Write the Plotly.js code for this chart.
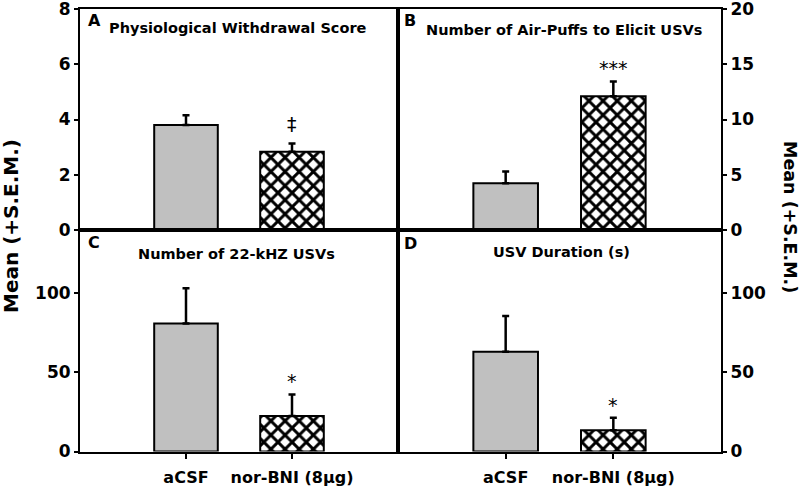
<!DOCTYPE html>
<html>
<head>
<meta charset="utf-8">
<script src="https://cdn.plot.ly/plotly-3.0.1.min.js"></script>
<style>html,body{margin:0;padding:0;background:#fff}#chart{width:800px;height:488px}</style>
</head>
<body>
<div id="chart"></div>
<script>
// ---- data ----
const groups = ['aCSF', 'nor-BNI (8µg)'];
const panelLetters = ['A', 'B', 'C', 'D'];
const panelTitles = ['Physiological Withdrawal Score', 'Number of Air-Puffs to Elicit USVs', 'Number of 22-kHZ USVs', 'USV Duration (s)'];
const meanA = [3.80, 2.83];
const semA  = [0.35, 0.30];
const meanB = [4.22, 12.1];
const semB  = [1.08, 1.35];
const meanC = [80.9, 22.5];
const semC  = [22.3, 13.6];
const meanD = [63.1, 13.5];
const semD  = [22.6, 7.9];
const sigLabels = ['‡', '***', '*', '*'];
const yTicksA = [0, 2, 4, 6, 8];
const yTicksB = [0, 5, 10, 15, 20];
const yTicksCD = [0, 50, 100];
const yTitle = 'Mean (+S.E.M.)';

// ---- style ----
const FONT = 'DejaVu Sans, Liberation Sans, Arial, sans-serif';
const W = 800, H = 488;
const px = v => v / W;
const py = v => 1 - v / H;
const sigShift = [7, 0, 0, 0];

const means = [meanA, meanB, meanC, meanD];
const sems = [semA, semB, semC, semD];
const axSuffix = ['', '2', '3', '4'];

const traces = [];
means.forEach((m, i) => {
  // control group (grey)
  traces.push({
    type: 'bar', x: [groups[0]], y: [m[0]],
    xaxis: 'x' + axSuffix[i], yaxis: 'y' + axSuffix[i], width: 0.6,
    marker: {color: '#c0c0c0', line: {color: '#000', width: 2}},
    error_y: {type: 'data', symmetric: false, array: [sems[i][0]], arrayminus: [0], color: '#000', thickness: 2.5, width: 3.5},
    showlegend: false, hoverinfo: 'skip'
  });
  // treatment group (cross-hatched)
  traces.push({
    type: 'bar', x: [groups[1]], y: [m[1]],
    xaxis: 'x' + axSuffix[i], yaxis: 'y' + axSuffix[i], width: 0.6,
    marker: {color: '#fff', line: {color: '#000', width: 2},
      pattern: {shape: 'x', fgcolor: '#000', bgcolor: '#fff', size: 10, solidity: 0.5}},
    error_y: {type: 'data', symmetric: false, array: [sems[i][1]], arrayminus: [0], color: '#000', thickness: 2.5, width: 3.5},
    showlegend: false, hoverinfo: 'skip'
  });
});

const tickFont = {family: FONT, size: 17, weight: 'bold', color: '#000'};
const xDomL = [px(80), px(398)];
const xDomR = [px(398), px(721)];
const yDomT = [py(230), py(9)];
const yDomB = [py(451.5), py(230)];

function xax(dom, anchor, showLabels) {
  return {
    domain: dom, anchor: anchor, type: 'category', range: [-1, 2],
    showline: true, linecolor: '#000', linewidth: 2, mirror: true,
    showgrid: false, zeroline: false,
    ticks: showLabels ? 'outside' : '', ticklen: 5, tickwidth: 2, tickcolor: '#000',
    showticklabels: showLabels, tickfont: {family: FONT, size: 16, weight: 'bold', color: '#000'},
    ticklabelstandoff: 5, fixedrange: true
  };
}
function yax(dom, anchor, range, tickvals, side) {
  return {
    domain: dom, anchor: anchor, range: range, tickvals: tickvals, side: side,
    showline: true, linecolor: '#000', linewidth: 2, mirror: true,
    showgrid: false, zeroline: false,
    ticks: 'outside', ticklen: 4, tickwidth: 2, tickcolor: '#000',
    tickfont: tickFont, ticklabeloverflow: 'allow', fixedrange: true
  };
}

const letterPos = [[86, 20], [402, 20], [86, 242], [402, 243]];
const titlePos = [[238, 28], [564, 30], [236, 254], [561, 252]];
const annotations = [];
panelLetters.forEach((L, i) => {
  annotations.push({text: L, xref: 'paper', yref: 'paper', x: px(letterPos[i][0]), y: py(letterPos[i][1]),
    xanchor: 'left', yanchor: 'middle', showarrow: false, font: {family: FONT, size: 16, weight: 'bold', color: '#000'}});
  annotations.push({text: panelTitles[i], xref: 'paper', yref: 'paper', x: px(titlePos[i][0]), y: py(titlePos[i][1]),
    xanchor: 'center', yanchor: 'middle', showarrow: false, font: {family: FONT, size: 14.5, weight: 'bold', color: '#000'}});
  annotations.push({text: sigLabels[i], xref: 'x' + axSuffix[i], yref: 'y' + axSuffix[i], x: groups[1],
    y: means[i][1] + sems[i][1], xanchor: 'center', yanchor: 'bottom', yshift: sigShift[i], showarrow: false,
    font: {family: FONT, size: 19, color: '#000'}});
});
annotations.push({text: yTitle, xref: 'paper', yref: 'paper', x: px(11), y: py(226), textangle: -90,
  xanchor: 'center', yanchor: 'middle', showarrow: false, font: {family: FONT, size: 20, weight: 'bold', color: '#000'}});
annotations.push({text: yTitle, xref: 'paper', yref: 'paper', x: px(790), y: py(217), textangle: 90,
  xanchor: 'center', yanchor: 'middle', showarrow: false, font: {family: FONT, size: 17.5, weight: 'bold', color: '#000'}});

const layout = {
  width: W, height: H,
  margin: {l: 0, r: 0, t: 0, b: 0},
  paper_bgcolor: '#fff', plot_bgcolor: '#fff',
  xaxis: xax(xDomL, 'y', false),
  xaxis2: xax(xDomR, 'y2', false),
  xaxis3: xax(xDomL, 'y3', true),
  xaxis4: xax(xDomR, 'y4', true),
  yaxis: yax(yDomT, 'x', [0, 8], yTicksA, 'left'),
  yaxis2: yax(yDomT, 'x2', [0, 20], yTicksB, 'right'),
  yaxis3: yax(yDomB, 'x3', [0, 140], yTicksCD, 'left'),
  yaxis4: yax(yDomB, 'x4', [0, 140], yTicksCD, 'right'),
  annotations: annotations
};

Plotly.newPlot('chart', traces, layout, {staticPlot: true, displayModeBar: false});
</script>
</body>
</html>
